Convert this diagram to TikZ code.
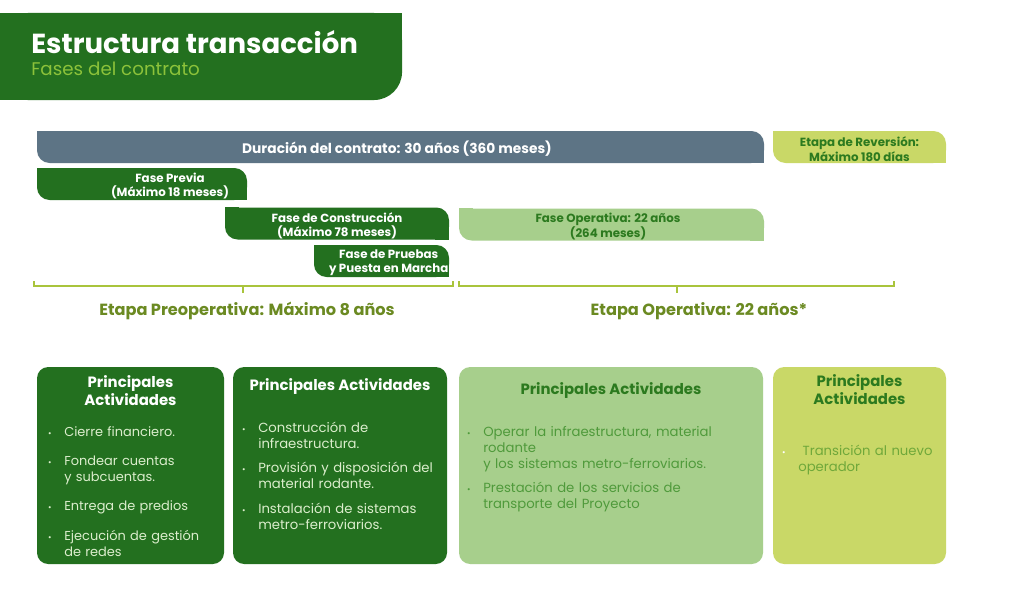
\documentclass[tikz,border=0pt]{standalone}
\usepackage{fontspec}
\setmainfont{Poppins}
\usetikzlibrary{positioning}
\definecolor{dkGreen}{HTML}{23701F}
\definecolor{ltGreen}{HTML}{A7CF8C}
\definecolor{limeGreen}{HTML}{C9D867}
\definecolor{slate}{HTML}{5D7485}
\definecolor{subGreen}{HTML}{8CC23A}
\definecolor{brkGreen}{HTML}{A9C43C}
\definecolor{etapaText}{HTML}{6B8A22}
\definecolor{paleText}{HTML}{DCEECD}
\definecolor{midText}{HTML}{4F9A3B}
\definecolor{titleText}{HTML}{2C7A1F}
\definecolor{limeText}{HTML}{6FA83A}
\newcommand\itm[1][.]{\leavevmode\llap{{\color{#1}\fontsize{6}{6}\selectfont\textbullet}\hspace{9pt}}}

\begin{document}
\begin{tikzpicture}[x=0.025cm, y=-0.025cm,
  phasebar/.style={rounded corners=9pt, minimum height=0.8cm, inner sep=0pt},
  bartxt/.style={align=center, inner sep=0pt, yshift=-1.4pt, font=\bfseries\fontsize{8.4}{10}\selectfont},
  brk/.style={draw=brkGreen, line width=1.5pt},
  etapa/.style={inner sep=0pt, text=etapaText, font=\bfseries\fontsize{11.5}{13}\selectfont},
  actbox/.style={rounded corners=8pt, minimum height=197*0.025cm, inner sep=0pt},
  acttitle/.style={align=center, inner sep=0pt, font=\bfseries\fontsize{10.6}{12.8}\selectfont},
  actlist/.style={align=left, anchor=north west, inner sep=0pt, text width=7cm,
    font=\fontsize{9.4}{11.4}\selectfont}]
  \fill[white] (0,0) rectangle (1024,588);
  \useasboundingbox (0,0) rectangle (1024,588);

  % header
  \node[fill=dkGreen, rounded corners=20pt, minimum width=10.05cm, minimum height=2.175cm, inner sep=0pt] (hdr) at (201,56.5) {};
  \fill[dkGreen] (hdr.north west) rectangle ++(30,30);
  \fill[dkGreen] (hdr.north east) rectangle ++(-30,30);
  \fill[dkGreen] (hdr.south west) rectangle ++(30,-30);
  \node[anchor=west, inner sep=0pt, text=white, font=\bfseries\fontsize{19.6}{22}\selectfont] (hdr-title) at (31,42) {Estructura transacción};
  \node[anchor=west, inner sep=0pt, text=subGreen, font=\fontsize{13}{15}\selectfont] (hdr-sub) at (31,69) {Fases del contrato};

  % phase bars
  \foreach \nm/\cx/\cy/\w/\fc in {dur/400.5/147/727/slate, rev/859.5/147/173/limeGreen,
      previa/142/184/210/dkGreen, constr/337/223.5/224/dkGreen,
      pruebas/381.5/261/135/dkGreen, oper/611.5/224.5/305/ltGreen} {
    \node[phasebar, fill=\fc, minimum width=\w*0.025cm] (\nm) at (\cx,\cy) {};
    \fill[\fc] (\nm.north west) rectangle ++(14,14);
    \fill[\fc] (\nm.south east) rectangle ++(-14,-14);
  }
  \node[bartxt, text=white, font=\bfseries\fontsize{9.8}{11}\selectfont] (dur-t) at (397,147) {Duración del contrato: 30 años (360 meses)};
  \node[bartxt, text=titleText, font=\bfseries\fontsize{8.4}{10.8}\selectfont] (rev-t) at (rev) {Etapa de Reversión:\\Máximo 180 días};
  \node[bartxt, text=white] (previa-t) at (170,184) {Fase Previa\\(Máximo 18 meses)};
  \node[bartxt, text=white] (constr-t) at (constr) {Fase de Construcción\\(Máximo 78 meses)};
  \node[bartxt, text=white, anchor=east] (pruebas-t) at ([xshift=-0.5pt]pruebas.east) {Fase de Pruebas\\y Puesta en Marcha};
  \node[bartxt, text=titleText] (oper-t) at (608,224.5) {Fase Operativa: 22 años\\(264 meses)};

  % etapas
  \draw[brk] (34,281) -- (34,286) -- (453,286) -- (453,281);
  \draw[brk] (243,286) -- (243,293) coordinate (pre-tip);
  \draw[brk] (459,281) -- (459,286) -- (894,286) -- (894,281);
  \draw[brk] (677,286) -- (677,293) coordinate (op-tip);
  \node[etapa, below=6.5pt of pre-tip, xshift=4*0.025cm] (pre-lbl) {Etapa Preoperativa: Máximo 8 años};
  \node[etapa, below=6.5pt of op-tip, xshift=22*0.025cm] (op-lbl) {Etapa Operativa: 22 años*};

  % activity boxes
  \foreach \nm/\cx/\w/\fc in {pre1/130.5/187/dkGreen, pre2/340/214/dkGreen,
      op1/611/304/ltGreen, rv1/859.5/173/limeGreen}
    \node[actbox, fill=\fc, minimum width=\w*0.025cm] (\nm) at (\cx,465.5) {};

  \node[acttitle, text=white, below=6pt of pre1.north] (pre1-t) {Principales\\Actividades};
  \node[acttitle, text=white, below=8pt of pre2.north] (pre2-t) {Principales Actividades};
  \node[acttitle, text=titleText, below=11pt of op1.north] (op1-t) {Principales Actividades};
  \node[acttitle, text=titleText, below=5.5pt of rv1.north] (rv1-t) {Principales\\Actividades};

  \node[actlist, text=paleText, font=\fontsize{9.2}{11.4}\selectfont] (pre1-l) at (64,426.5) {\itm Cierre financiero.\\[9.3pt]
    \itm Fondear cuentas\\y subcuentas.\\[9.3pt]
    \itm Entrega de predios\\[9.3pt]
    \itm Ejecución de gestión\\de redes};
  \node[actlist, text=paleText] (pre2-l) at (258,421.5) {\itm Construcción de\\infraestructura.\\[6pt]
    \itm Provisión y disposición del\\material rodante.\\[6pt]
    \itm Instalación de sistemas\\metro-ferroviarios.};
  \node[actlist, text=midText] (op1-l) at (483,426) {\itm Operar la infraestructura, material\\rodante\\y los sistemas metro-ferroviarios.\\[6pt]
    \itm Prestación de los servicios de\\transporte del Proyecto};
  \node[actlist, text=limeText] (rv1-l) at (798,444.5) {\itm[white] Transición al nuevo\\operador};
\end{tikzpicture}
\end{document}
